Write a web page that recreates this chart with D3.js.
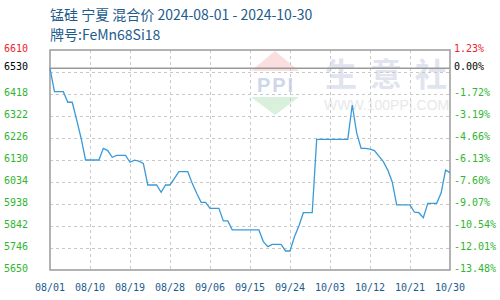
<!DOCTYPE html>
<html>
<head>
<meta charset="utf-8">
<script src="https://cdn.jsdelivr.net/npm/d3@7"></script>
<style>
  body { margin: 0; background: #fff; }
  svg { display: block; }
</style>
</head>
<body>
<svg></svg>
<script>
// dagprijzen 2024-08-01 t/m 2024-10-30
let startDay = "2024-08-01"
let prices = [
  6530, 6428, 6428, 6428, 6382, 6382, 6305, 6225, 6130, 6130,
  6130, 6130, 6181, 6171, 6142, 6150, 6150, 6150, 6120, 6129,
  6125, 6115, 6021, 6021, 6021, 5989, 6021, 6021, 6050, 6079,
  6079, 6079, 6028, 5985, 5945, 5945, 5919, 5919, 5919, 5864,
  5864, 5825, 5825, 5825, 5825, 5825, 5825, 5825, 5774, 5752,
  5762, 5762, 5762, 5733, 5733, 5795, 5842, 5900, 5900, 5900,
  6220, 6220, 6220, 6220, 6220, 6220, 6220, 6220, 6370, 6248,
  6181, 6181, 6177, 6171, 6147, 6123, 6086, 6034, 5934, 5934,
  5934, 5934, 5902, 5900, 5878, 5941, 5941, 5941, 5986, 6086,
  6075
]
let basePrice = 6530

let xTickLabels = ["08/01", "08/10", "08/19", "08/28", "09/06", "09/15", "09/24", "10/03", "10/12", "10/21", "10/30"]
let leftTicks = [6610, 6530, 6418, 6322, 6226, 6130, 6034, 5938, 5842, 5746, 5650]
let rightTickLabels = ["1.23%", "0.00%", "-1.72%", "-3.19%", "-4.66%", "-6.13%", "-7.60%", "-9.07%", "-10.54%", "-12.01%", "-13.48%"]
let gridTicks = [5746, 5842, 5938, 6034, 6130, 6226, 6322, 6418, 6514]

let width = 500
let height = 300
let plotLeft = 50
let plotRight = 450
let plotTop = 50
let plotBottom = 270

let svg = d3.select("svg")
    .attr("width", width)
    .attr("height", height)

let parseDay = d3.timeParse("%Y-%m-%d")
let parseTick = d3.timeParse("%Y/%m/%d")
let start = parseDay(startDay)
let data = prices.map((p, i) => ({ date: d3.timeDay.offset(start, i), price: p }))
let tickDates = xTickLabels.map(l => parseTick("2024/" + l))

let xScale = d3.scaleTime()
    .domain([start, d3.timeDay.offset(start, prices.length - 1)])
    .range([plotLeft, plotRight])

let yScale = d3.scaleLinear()
    .domain([5650, 6610])
    .range([plotBottom, plotTop])

let tickColor = (v) => {
    if (v > basePrice) return "#e8262b"
    else if (v == basePrice) return "#000"
    return "#2fb52f"
}

// titel
let title = svg.append("g")
    .style("font-family", "'Noto Sans CJK SC', 'Noto Sans', sans-serif")
    .style("fill", "#1d5c8c")
title.append("text")
    .attr("x", 50)
    .attr("y", 20)
    .style("font-size", "14px")
    .text("锰硅 宁夏 混合价 2024-08-01 - 2024-10-30")
title.append("text")
    .attr("x", 50)
    .attr("y", 40)
    .style("font-size", "14px")
    .text("牌号:FeMn68Si18")

// watermerk
let wm = svg.append("g")
wm.append("path")
    .attr("d", "M275,51 L299,71 L251,71 Z")
    .attr("fill", "#fbdede")
wm.append("path")
    .attr("d", "M251,97 L299,97 L275,115 Z")
    .attr("fill", "#d9f0dd")
wm.append("text")
    .attr("x", 276)
    .attr("y", 92)
    .attr("text-anchor", "middle")
    .style("font-family", "'Liberation Sans', sans-serif")
    .style("font-weight", "bold")
    .style("font-size", "20px")
    .style("letter-spacing", "2px")
    .style("fill", "#cdd7ea")
    .text("PPI")
wm.selectAll(".wmchar")
    .data(["生", "意", "社"])
    .enter()
    .append("text")
    .attr("class", "wmchar")
    .attr("x", (d, i) => 341 + i * 45)
    .attr("y", 86)
    .attr("text-anchor", "middle")
    .style("font-family", "'Noto Sans CJK SC', sans-serif")
    .style("font-weight", "bold")
    .style("font-size", "32px")
    .style("fill", "#dfe4ef")
    .text(d => d)
wm.append("text")
    .attr("x", 324)
    .attr("y", 110)
    .style("font-family", "'Liberation Sans', sans-serif")
    .style("font-size", "14px")
    .style("fill", "#e8e8e8")
    .text("WWW.100PPI.COM")

// raster
svg.append("g")
    .selectAll("line")
    .data(gridTicks)
    .enter()
    .append("line")
    .attr("x1", plotLeft)
    .attr("x2", plotRight)
    .attr("y1", d => Math.round(yScale(d)) + 0.5)
    .attr("y2", d => Math.round(yScale(d)) + 0.5)
    .attr("stroke", "#c8c8c8")
    .attr("stroke-dasharray", "3,3")

svg.append("g")
    .selectAll("line")
    .data(tickDates.slice(1, -1))
    .enter()
    .append("line")
    .attr("x1", d => Math.round(xScale(d)) + 0.5)
    .attr("x2", d => Math.round(xScale(d)) + 0.5)
    .attr("y1", plotTop)
    .attr("y2", plotBottom)
    .attr("stroke", "#c8c8c8")
    .attr("stroke-dasharray", "3,3")

// basislijn
svg.append("line")
    .attr("x1", plotLeft)
    .attr("x2", plotRight)
    .attr("y1", yScale(basePrice))
    .attr("y2", yScale(basePrice))
    .attr("stroke", "#9a9a9a")
    .attr("stroke-width", 1.5)

svg.append("rect")
    .attr("x", plotLeft)
    .attr("y", plotTop)
    .attr("width", plotRight - plotLeft)
    .attr("height", plotBottom - plotTop)
    .attr("fill", "none")
    .attr("stroke", "#9a9a9a")
    .attr("stroke-width", 1.5)

// lijn
let line = d3.line()
    .x(d => xScale(d.date))
    .y(d => yScale(d.price))

svg.append("path")
    .datum(data)
    .attr("d", line)
    .attr("fill", "none")
    .attr("stroke", "#3a9ad9")
    .attr("stroke-width", 1.3)

// assen
let axisFont = "'DejaVu Sans Mono', monospace"

svg.append("g")
    .selectAll("text")
    .data(leftTicks)
    .enter()
    .append("text")
    .attr("x", 28)
    .attr("y", d => yScale(d) - 1.5)
    .attr("dy", "0.35em")
    .attr("text-anchor", "end")
    .style("font-family", axisFont)
    .style("font-size", "10px")
    .style("fill", d => tickColor(d))
    .text(d => d)

svg.append("g")
    .selectAll("text")
    .data(rightTickLabels)
    .enter()
    .append("text")
    .attr("x", 454)
    .attr("y", (d, i) => yScale(leftTicks[i]) - 2)
    .attr("dy", "0.35em")
    .style("font-family", axisFont)
    .style("font-size", "10px")
    .style("fill", (d, i) => tickColor(leftTicks[i]))
    .text(d => d)

svg.append("g")
    .selectAll("text")
    .data(tickDates)
    .enter()
    .append("text")
    .attr("x", d => xScale(d))
    .attr("y", 287)
    .attr("dy", "0.35em")
    .attr("text-anchor", "middle")
    .style("font-family", axisFont)
    .style("font-size", "10px")
    .style("fill", "#1d5c8c")
    .text((d, i) => xTickLabels[i])
</script>
</body>
</html>
